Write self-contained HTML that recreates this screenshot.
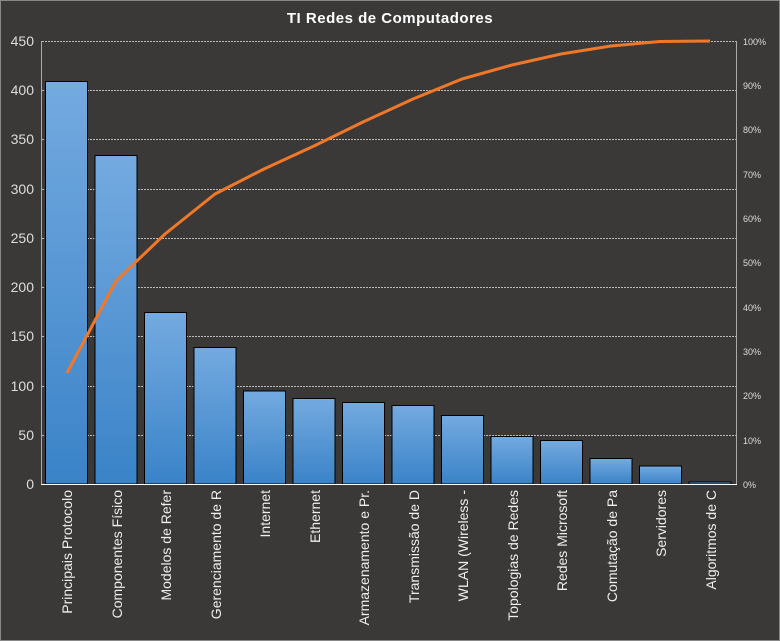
<!DOCTYPE html><html><head><style>html,body{margin:0;padding:0;background:#3a3938;overflow:hidden;width:780px;height:641px}svg{display:block}</style></head><body>
<svg width="780" height="641" xmlns="http://www.w3.org/2000/svg" font-family="Liberation Sans, sans-serif">
<defs><linearGradient id="g" x1="0" y1="0" x2="0" y2="1"><stop offset="0" stop-color="#74aae0"/><stop offset="1" stop-color="#3a83c8"/></linearGradient></defs>
<rect x="0.5" y="0.5" width="779" height="640" fill="#3a3938" stroke="#888"/>
<text x="390" y="23" text-anchor="middle" fill="#fff" font-weight="bold" font-size="15" letter-spacing="0.5">TI Redes de Computadores</text>
<g stroke="#bbb" stroke-dasharray="2,1" stroke-width="1">
<line x1="42" x2="736" y1="41.5" y2="41.5"/><line x1="42" x2="736" y1="90.5" y2="90.5"/><line x1="42" x2="736" y1="139.5" y2="139.5"/><line x1="42" x2="736" y1="189.5" y2="189.5"/><line x1="42" x2="736" y1="238.5" y2="238.5"/><line x1="42" x2="736" y1="287.5" y2="287.5"/><line x1="42" x2="736" y1="336.5" y2="336.5"/><line x1="42" x2="736" y1="386.5" y2="386.5"/><line x1="42" x2="736" y1="435.5" y2="435.5"/>
</g>
<line x1="41.5" y1="41" x2="41.5" y2="484" stroke="#aaa"/>
<line x1="736.5" y1="41" x2="736.5" y2="484" stroke="#aaa"/>
<g fill="#ddd" font-size="14" text-anchor="end">
<text x="34" y="46">450</text><text x="34" y="95">400</text><text x="34" y="144">350</text><text x="34" y="194">300</text><text x="34" y="243">250</text><text x="34" y="292">200</text><text x="34" y="341">150</text><text x="34" y="391">100</text><text x="34" y="440">50</text><text x="34" y="489">0</text>
</g>
<g fill="#ddd" font-size="9">
<text x="743" y="45">100%</text><text x="743" y="89">90%</text><text x="743" y="133">80%</text><text x="743" y="178">70%</text><text x="743" y="222">60%</text><text x="743" y="266">50%</text><text x="743" y="311">40%</text><text x="743" y="355">30%</text><text x="743" y="399">20%</text><text x="743" y="444">10%</text><text x="743" y="488">0%</text>
</g>
<g fill="url(#g)" stroke="#000" stroke-width="1">
<rect x="45.5" y="81.5" width="42" height="402.5"/>
<rect x="95" y="155.5" width="42" height="328.5"/>
<rect x="144.5" y="312.5" width="42" height="171.5"/>
<rect x="194" y="347.5" width="42" height="136.5"/>
<rect x="243.5" y="391" width="42" height="93"/>
<rect x="293" y="398.5" width="42" height="85.5"/>
<rect x="342.5" y="402.5" width="42" height="81.5"/>
<rect x="392" y="405.5" width="42" height="78.5"/>
<rect x="441.5" y="415.5" width="42" height="68.5"/>
<rect x="491" y="436.5" width="42" height="47.5"/>
<rect x="540.5" y="440.5" width="42" height="43.5"/>
<rect x="590" y="458.5" width="42" height="25.5"/>
<rect x="639.5" y="466" width="42" height="18"/>
<rect x="689" y="482" width="42" height="2"/>
</g>
<line x1="41" y1="484.5" x2="737" y2="484.5" stroke="#fff"/>
<polyline fill="none" stroke="#f07828" stroke-width="3" stroke-linejoin="round" points="67,373 116,281 165,234 215,194 264,169 314,146 363,122 413,99 462,79 512,65 561,54 611,46 660,41.5 710,41"/>
<g fill="#eee" font-size="14" text-anchor="end">
<text transform="translate(72,490) rotate(-90)">Principais Protocolo</text>
<text transform="translate(122,490) rotate(-90)">Componentes Físico</text>
<text transform="translate(171,490) rotate(-90)">Modelos de Refer</text>
<text transform="translate(221,490) rotate(-90)">Gerenciamento de R</text>
<text transform="translate(270,490) rotate(-90)">Internet</text>
<text transform="translate(320,490) rotate(-90)">Ethernet</text>
<text transform="translate(369,490) rotate(-90)">Armazenamento  e Pr.</text>
<text transform="translate(419,490) rotate(-90)">Transmissão de D</text>
<text transform="translate(468,490) rotate(-90)">WLAN (Wireless -</text>
<text transform="translate(518,490) rotate(-90)">Topologias de Redes</text>
<text transform="translate(567,490) rotate(-90)">Redes Microsoft</text>
<text transform="translate(617,490) rotate(-90)">Comutação de Pa</text>
<text transform="translate(666,490) rotate(-90)">Servidores</text>
<text transform="translate(716,490) rotate(-90)">Algoritmos de C</text>
</g>
</svg></body></html>
